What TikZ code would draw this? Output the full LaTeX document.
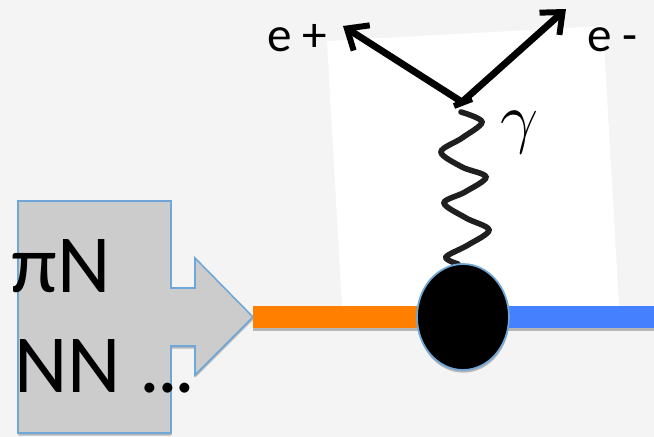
\documentclass[tikz,border=0pt]{standalone}
\usepackage{fontspec}
\setmainfont{Carlito}
\usetikzlibrary{arrows.meta,shadows,shapes.geometric}
\definecolor{bgGray}{HTML}{F4F4F4}
\definecolor{boxGray}{HTML}{CCCCCC}
\definecolor{edgeBlue}{HTML}{6FA8D8}
\definecolor{barOrange}{HTML}{FF7F00}
\definecolor{barBlue}{HTML}{4580FF}
\begin{document}
\begin{tikzpicture}[x=0.02cm, y=-0.02cm, line join=miter,
    softshadow/.style={drop shadow={shadow xshift=0.2pt, shadow yshift=-1.5pt, opacity=0.25, fill=black}},
    lepton/.style={line width=3.9pt, -{Straight Barb[length=10pt, width=17pt, line width=3.4pt]}},
    bar/.style={inner sep=0pt, minimum height=0.44cm, softshadow},
    bigtext/.style={anchor=base west, inner sep=0pt, font=\fontsize{47}{47}\selectfont},
    smalltext/.style={anchor=base west, inner sep=0pt, font=\fontsize{28}{28}\selectfont}]
  \useasboundingbox[fill=bgGray] (0,0) rectangle (654,437);
  % white sheet behind the graph
  \fill[white] (327,41) -- (603,26) -- (619,306) -- (342,306) -- cycle;
  % block arrow
  \draw[fill=boxGray, draw=edgeBlue, line width=0.9pt, softshadow]
    (18,201) -- (171,201) -- (171,288) -- (195,288) -- (195,258) -- (253,317)
    -- (195,375) -- (195,346) -- (171,346) -- (171,433) -- (18,433) -- cycle;
  % horizontal bars
  \node[bar, fill=barOrange, minimum width=3.4cm] (Lbar) at (338,317) {};
  \node[bar, fill=barBlue, minimum width=3.2cm] (Rbar) at (574,317) {};
  % vertex and outgoing pair
  \coordinate (V) at (462,102);
  \coordinate (Pos) at (343,26);
  \coordinate (Ele) at (566,9);
  \coordinate (Tl) at (454,106);
  \coordinate (Tr) at (472,99);
  \draw[lepton] (V) -- (Pos);
  \draw[lepton] (V) -- (Ele);
  \draw[line width=3.4pt] (Tl) -- (Tr);
  % photon line
  \draw[line width=3.2pt, black!88, line cap=round] plot[smooth, tension=0.55] coordinates
    {(461,112) (482,122) (462,138) (441,152) (462,167) (486,177) (465,192) (444,203)
     (466,218) (489,230) (468,245) (446,257) (458,264)};
  % blob
  \node[ellipse, fill=black, draw=edgeBlue, line width=1pt, inner sep=0pt,
    minimum width=1.84cm, minimum height=2.12cm, softshadow] (Blob) at (463,317) {};
  % labels
  \node[smalltext] (Lpos) at (267,51) {e +};
  \node[smalltext] (Lele) at (587,51) {e -};
  \node[anchor=base west, inner sep=0pt, scale=1.55, transform shape, font=\fontsize{42}{42}\selectfont] (Lgam) at (500,140) {$\gamma$};
  \node[bigtext] (Lpi) at (11,292) {πN};
  \node[bigtext] (Lnn) at (14,392) {NN .\kern-2pt.\kern-2pt.};
\end{tikzpicture}
\end{document}
